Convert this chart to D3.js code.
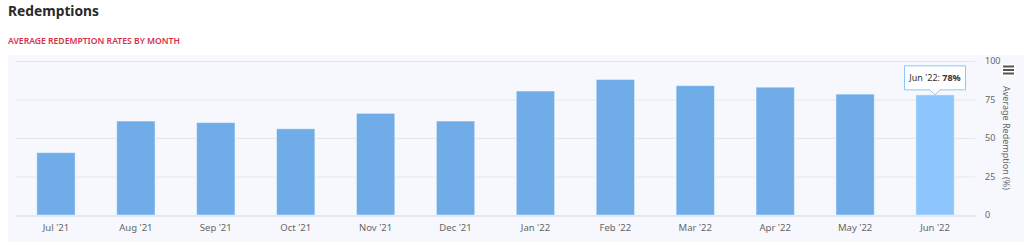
<!DOCTYPE html>
<html>
<head>
<meta charset="utf-8">
<script src="https://cdn.jsdelivr.net/npm/d3@7"></script>
<style>
  body { margin: 0; background: #fff; }
  svg { display: block; font-family: 'Noto Sans', sans-serif; }
</style>
</head>
<body>
<svg id="chart" width="1024" height="245"></svg>
<script>
// data
const months = ["Jul '21", "Aug '21", "Sep '21", "Oct '21", "Nov '21", "Dec '21",
  "Jan '22", "Feb '22", "Mar '22", "Apr '22", "May '22", "Jun '22"];
const rates = [40.5, 61, 60, 56, 66, 61, 80.5, 88, 84, 83, 78.5, 78];
const yTicks = [0, 25, 50, 75, 100];
const hoverIndex = 11;

const width = 1024;
const height = 245;
const marginTop = 61;
const marginRight = 49;
const marginBottom = 30;
const marginLeft = 16;

const svg = d3.select('#chart');

// title + subtitle
svg.append('text')
  .attr('x', 8).attr('y', 16)
  .attr('font-size', '14px').attr('font-weight', 700)
  .attr('fill', '#2a2a2a')
  .attr('textLength', 91)
  .attr('lengthAdjust', 'spacingAndGlyphs')
  .text('Redemptions');

svg.append('text')
  .attr('x', 8).attr('y', 44)
  .attr('font-size', '8.6px').attr('font-weight', 600)
  .attr('fill', '#d6304a')
  .attr('textLength', 172)
  .attr('lengthAdjust', 'spacingAndGlyphs')
  .text('AVERAGE REDEMPTION RATES BY MONTH');

// chart panel background
svg.append('rect')
  .attr('x', 8).attr('y', 55)
  .attr('width', width - 8).attr('height', 187)
  .attr('fill', '#f7f8fd');

const x = d3.scaleBand()
  .domain(months)
  .range([marginLeft, width - marginRight])
  .paddingInner(0.52)
  .paddingOuter(0.26);

const y = d3.scaleLinear()
  .domain([0, 100])
  .range([height - marginBottom, marginTop]);

// grid lines
svg.append('g')
  .selectAll('line')
  .data(yTicks.filter((d) => d > 0))
  .join('line')
  .attr('x1', marginLeft)
  .attr('x2', width - marginRight)
  .attr('y1', (d) => y(d) + 0.5)
  .attr('y2', (d) => y(d) + 0.5)
  .attr('stroke', '#e6e6ea')
  .attr('stroke-width', 1);

// bars
svg.append('g')
  .selectAll('rect')
  .data(rates)
  .join('rect')
  .attr('x', (d, i) => x(months[i]))
  .attr('y', (d) => y(d))
  .attr('width', x.bandwidth())
  .attr('height', (d) => y(0) - y(d))
  .attr('fill', (d, i) => (i === hoverIndex ? '#8cc6fd' : '#70ade8'))
  .attr('stroke', 'rgba(255,255,255,0.45)')
  .attr('stroke-width', 1);

// x axis
const xAxis = svg.append('g')
  .attr('transform', `translate(0,${y(0) + 0.5})`)
  .call(d3.axisBottom(x).tickSize(0).tickPadding(9));
xAxis.select('.domain').attr('stroke', '#ccd6eb');
xAxis.selectAll('text')
  .attr('font-size', '9.5px')
  .attr('font-family', "'Noto Sans', sans-serif")
  .attr('fill', '#666');

// y axis on the right
const yAxis = svg.append('g')
  .attr('transform', `translate(${width - marginRight},0)`)
  .call(d3.axisRight(y).tickValues(yTicks).tickSize(0).tickPadding(10));
yAxis.select('.domain').remove();
yAxis.selectAll('text')
  .attr('font-size', '9px')
  .attr('font-family', "'Noto Sans', sans-serif")
  .attr('fill', '#666');

svg.append('text')
  .attr('transform', `translate(1003,${(y(0) + y(100)) / 2}) rotate(90)`)
  .attr('text-anchor', 'middle')
  .attr('font-size', '9px')
  .attr('fill', '#666')
  .text('Average Redemption (%)');

// menu icon
const menu = svg.append('g').attr('transform', 'translate(1001,64)');
menu.append('rect')
  .attr('width', 15).attr('height', 12)
  .attr('fill', '#fff');
menu.selectAll('line')
  .data([2.5, 6, 9.5])
  .join('line')
  .attr('x1', 2).attr('x2', 13)
  .attr('y1', (d) => d).attr('y2', (d) => d)
  .attr('stroke', '#555').attr('stroke-width', 2);

// tooltip for hovered bar
const cx = x(months[hoverIndex]) + x.bandwidth() / 2;
const tipW = 61, tipH = 24;
const tipTop = y(rates[hoverIndex]) - tipH - 5;
const tip = svg.append('g');
tip.append('path')
  .attr('d', `M${cx - tipW / 2},${tipTop} h${tipW} v${tipH} h${-tipW / 2 + 5} l-5,5 l-5,-5 h${-tipW / 2 + 5} Z`)
  .attr('fill', 'rgba(255,255,255,0.92)')
  .attr('stroke', '#8cc6fd')
  .attr('stroke-width', 1);
const tipText = tip.append('text')
  .attr('x', cx).attr('y', tipTop + 15.5)
  .attr('text-anchor', 'middle')
  .attr('font-size', '9px')
  .attr('fill', '#333');
tipText.append('tspan').text(`${months[hoverIndex]}: `);
tipText.append('tspan').attr('font-weight', 700).text(`${rates[hoverIndex]}%`);
</script>
</body>
</html>
